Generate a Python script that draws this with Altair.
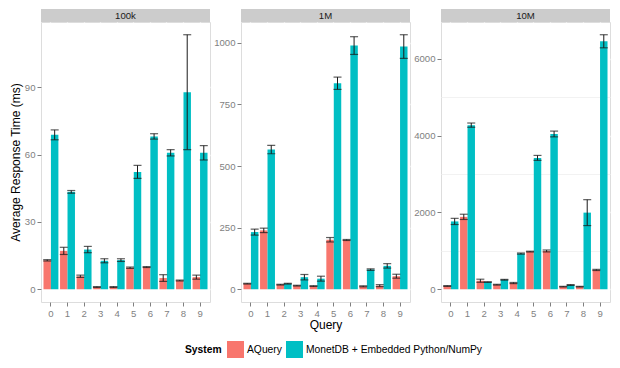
import altair as alt
import pandas as pd

queries = [str(i) for i in range(10)]
systems = ["AQuery", "MonetDB + Embedded Python/NumPy"]
sizes = ["100k", "1M", "10M"]

aq_100k = [12.9, 17.1, 5.8, 1.0, 1.0, 9.6, 9.9, 5.0, 3.9, 5.4]
aq_100k_err = [0.3, 1.6, 0.5, 0.2, 0.2, 0.3, 0.2, 1.5, 0.2, 0.9]
mo_100k = [68.8, 43.4, 17.7, 12.7, 13.0, 52.3, 68.1, 60.8, 87.8, 60.8]
mo_100k_err = [2.2, 0.6, 1.4, 0.9, 0.6, 2.9, 1.2, 1.4, 25.6, 3.2]

aq_1m = [22.7, 239, 18.7, 14.7, 13, 201, 200, 12, 14.7, 53]
aq_1m_err = [1.5, 9, 1.5, 1.5, 1.5, 9, 2, 2, 4, 8]
mo_1m = [232, 567, 22.7, 49, 43, 836, 989, 80, 95, 985]
mo_1m_err = [12, 17, 1.5, 11, 10, 25, 36, 3, 9, 48]

aq_10m = [85, 1884, 222, 119, 162, 980, 997, 68, 68, 503]
aq_10m_err = [10, 68, 40, 10, 15, 10, 25, 8, 8, 15]
mo_10m = [1765, 4270, 188, 247, 929, 3418, 4040, 111, 1994, 6452]
mo_10m_err = [80, 55, 8, 10, 15, 64, 75, 10, 337, 170]

y_major = [30, 250, 2000]
y_max_tick = [105, 1000, 6000]
panel_widths = [169, 169, 169]

series = {
    "100k": (aq_100k, aq_100k_err, mo_100k, mo_100k_err),
    "1M": (aq_1m, aq_1m_err, mo_1m, mo_1m_err),
    "10M": (aq_10m, aq_10m_err, mo_10m, mo_10m_err),
}

FONT = "Liberation Sans"
COLORS = ["#F8766D", "#00BFC4"]
PLOT_H = 280
STRIP_H = 13


def make_df(size):
    aq, aqe, mo, moe = series[size]
    rows = []
    for i, q in enumerate(queries):
        rows.append({"Query": q, "System": systems[0], "Time": aq[i],
                     "lo": aq[i] - aqe[i], "hi": aq[i] + aqe[i]})
        rows.append({"Query": q, "System": systems[1], "Time": mo[i],
                     "lo": mo[i] - moe[i], "hi": mo[i] + moe[i]})
    return pd.DataFrame(rows)


def panel(idx, size):
    df = make_df(size)
    width = panel_widths[idx]
    major = y_major[idx]
    minor = major // 2
    top = df["hi"].max()
    pad = 0.05 * top
    dom = [-pad, top + pad]
    vals = list(range(0, y_max_tick[idx] + 1, minor))

    y_axis = alt.Axis(
        values=vals,
        format="d",
        labelExpr=f"datum.value % {major} == 0 ? datum.label : ''",
        gridColor={"condition": {"test": f"datum.value % {major} != 0", "value": "#F2F2F2"}, "value": "#FFFFFF"},
        gridWidth={"condition": {"test": f"datum.value % {major} != 0", "value": 1.0}, "value": 1.3},
        tickOpacity={"condition": {"test": f"datum.value % {major} != 0", "value": 0}, "value": 1},
        domain=False,
        tickSize=4,
        tickColor="#7F7F7F",
        labelColor="#7F7F7F",
        labelFontSize=9.6,
        labelPadding=2,
        title="Average Response Time (ms)" if idx == 0 else None,
        titleFontSize=12,
        titleFontWeight="normal",
        titleColor="#000000",
        titlePadding=3,
        minExtent=16 if idx == 0 else 27,
        maxExtent=16 if idx == 0 else 27,
    )
    x_axis = alt.Axis(
        labelAngle=0,
        domain=False,
        tickSize=4,
        tickColor="#7F7F7F",
        labelColor="#7F7F7F",
        labelFontSize=9.6,
        labelPadding=2,
        grid=True,
        gridColor="#FFFFFF",
        gridWidth=1.3,
        bandPosition=0.5,
        title="Query" if idx == 1 else None,
        titleFontSize=12,
        titleFontWeight="normal",
        titleColor="#000000",
        titlePadding=2,
    )
    x = alt.X("Query:N", sort=queries, axis=x_axis,
              scale=alt.Scale(paddingInner=0.1, paddingOuter=0.15))
    xo = alt.XOffset("System:N", sort=systems, scale=alt.Scale(paddingInner=0, paddingOuter=0))
    y = alt.Y("Time:Q", axis=y_axis, scale=alt.Scale(domain=dom, nice=False, zero=False))
    color = alt.Color(
        "System:N", sort=systems,
        scale=alt.Scale(domain=systems, range=COLORS),
        legend=alt.Legend(
            orient="none", legendX=144, legendY=319, direction="horizontal",
            titleOrient="left", symbolType="square", symbolSize=289,
            symbolStrokeWidth=0, titleFontWeight="bold", titleFontSize=10.3,
            labelFontSize=10.3, title="System", columnPadding=4, labelOffset=3,
            titlePadding=5, titleBaseline="middle", labelColor="#000000",
            titleColor="#000000", labelLimit=0,
        ),
    )
    base = alt.Chart(df)
    bars = base.mark_bar().encode(x=x, xOffset=xo, y=y, color=color)
    rules = base.mark_rule(color="#1A1A1A", strokeWidth=1).encode(
        x=x, xOffset=xo, y=alt.Y("lo:Q"), y2="hi:Q")
    cap_lo = base.mark_tick(color="#1A1A1A", size=8, thickness=1.2).encode(
        x=x, xOffset=xo, y=alt.Y("lo:Q"))
    cap_hi = base.mark_tick(color="#1A1A1A", size=8, thickness=1.2).encode(
        x=x, xOffset=xo, y=alt.Y("hi:Q"))

    strip_df = pd.DataFrame({"Size": [size]})
    strip = alt.Chart(strip_df).mark_rect(color="#CCCCCC").encode(
        x=alt.value(0), x2=alt.value(width), y=alt.value(-STRIP_H), y2=alt.value(0))
    strip_text = alt.Chart(strip_df).mark_text(
        font=FONT, fontSize=9.6, color="#1A1A1A", baseline="middle", align="center"
    ).encode(x=alt.value(width / 2), y=alt.value(-STRIP_H / 2), text="Size:N")

    return alt.layer(bars, rules, cap_lo, cap_hi, strip, strip_text).properties(
        width=width, height=PLOT_H)


chart = alt.hconcat(*[panel(i, s) for i, s in enumerate(sizes)], spacing=2).resolve_scale(
    y="independent", x="independent"
).properties(padding={"left": 0, "top": 0, "right": 0, "bottom": 0}).configure_view(
    fill="#E5E5E5", stroke=None
).configure(font=FONT)

chart.save("out.html", embed_options={"renderer": "svg", "actions": False})
